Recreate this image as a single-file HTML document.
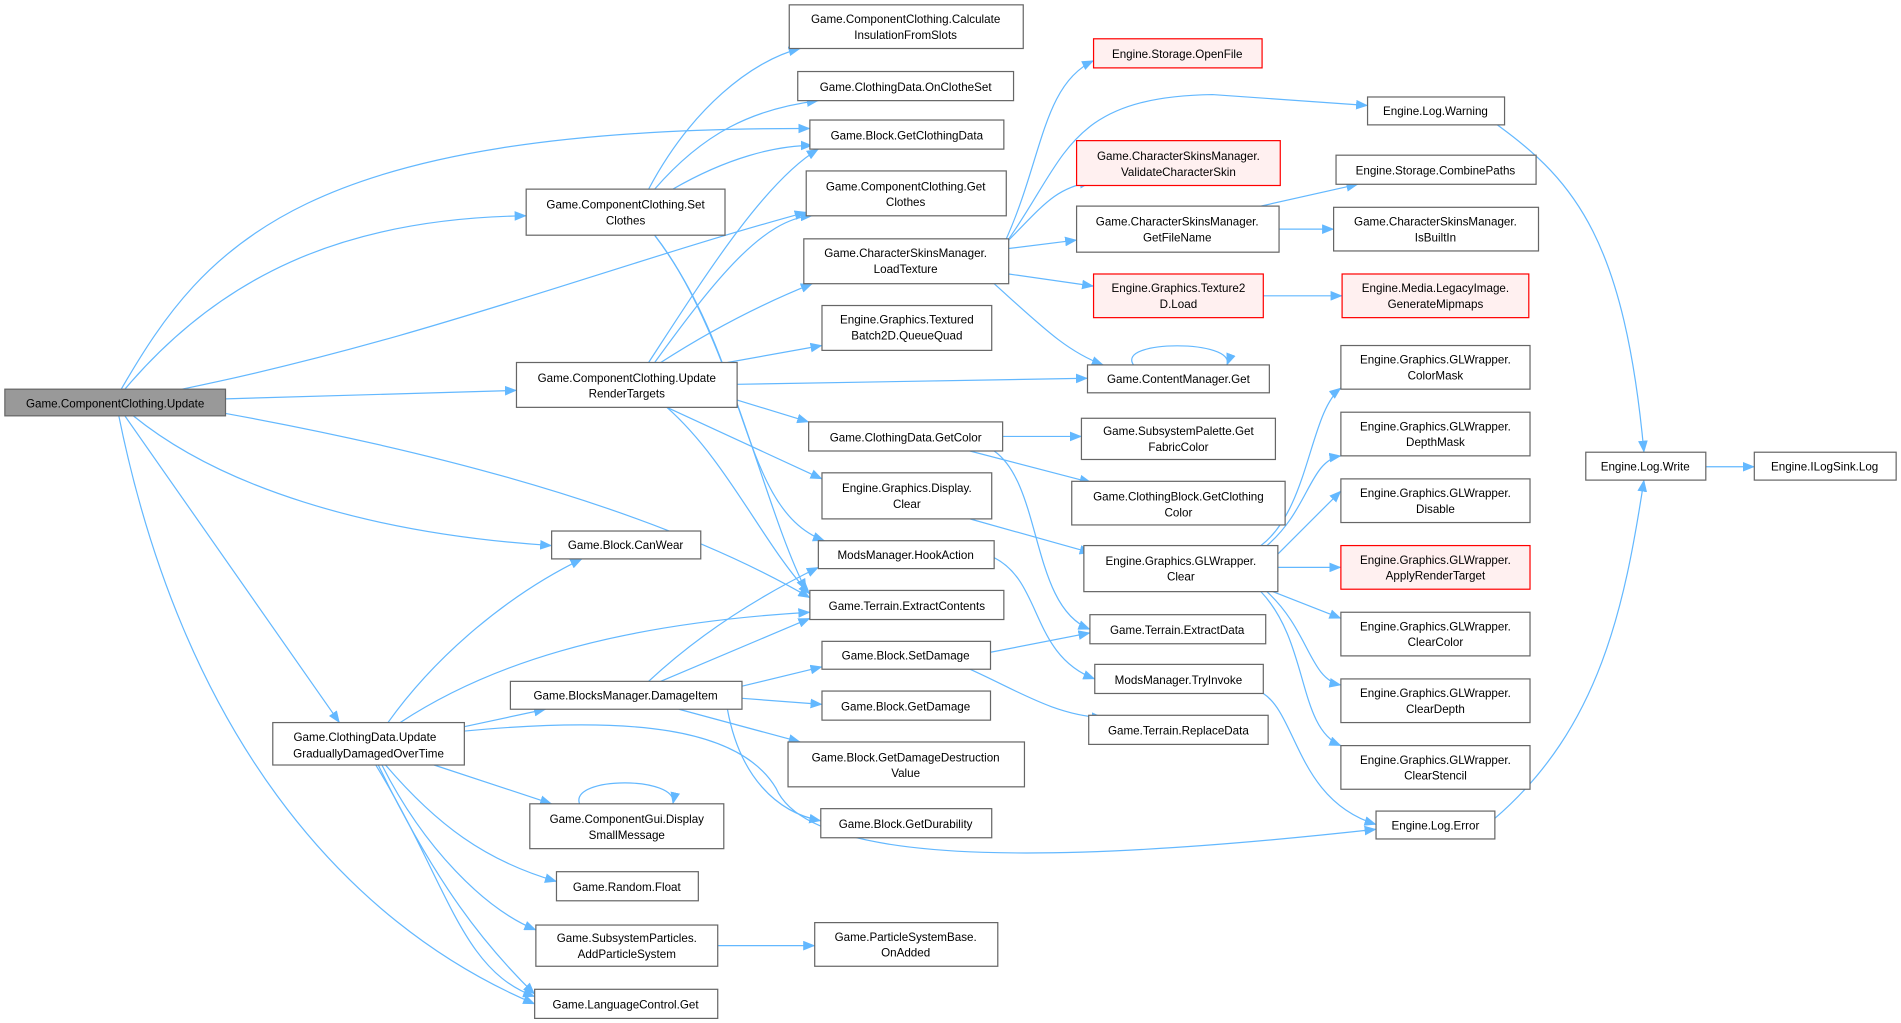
<!DOCTYPE html>
<html><head><meta charset="utf-8"><style>
html,body{margin:0;padding:0;background:#fff;}
svg{display:block;}
text{font-family:"Liberation Sans",Arial,sans-serif;font-size:9.6px;fill:#000;text-anchor:middle;}
.e{fill:none;stroke:#63b8ff;stroke-width:1;}
.n{fill:#fff;stroke:#666;stroke-width:1;}
.r{fill:#fff0f0;stroke:#f00;stroke-width:1;}
.g{fill:#999;stroke:#666;stroke-width:1;}
</style></head><body>
<svg width="1901" height="1023" viewBox="0 0 1568 843.8" xmlns="http://www.w3.org/2000/svg">
<defs><marker id="a" markerWidth="10" markerHeight="8" refX="9.5" refY="4" orient="auto" markerUnits="userSpaceOnUse"><path d="M0,0 L10,4 L0,8 z" fill="#63b8ff"/></marker></defs>
<g class="e" marker-end="url(#a)">
<path d="M100,321 C170,200 250,105 668,106"/>
<path d="M103,321 C180,230 280,180 434,178"/>
<path d="M150,321 C350,280 500,220 665,175"/>
<path d="M186,329 L426,322"/>
<path d="M186,341 C400,380 560,430 668,493"/>
<path d="M110,343 C180,400 300,440 455,450"/>
<path d="M103,343 L280,596"/>
<path d="M98,343 C150,600 280,760 441,828"/>
<path d="M535,156 C570,90 620,50 660,40"/>
<path d="M540,156 C580,110 620,90 675,83"/>
<path d="M555,156 C600,130 640,120 670,120"/>
<path d="M540,194 C600,270 630,420 665,487"/>
<path d="M540,194 C620,300 610,420 680,446"/>
<path d="M535,299 C580,230 630,150 675,123"/>
<path d="M540,299 C590,230 630,180 670,178"/>
<path d="M545,299 C590,270 630,250 670,234"/>
<path d="M600,299 L678,285"/>
<path d="M608,317 L897,312"/>
<path d="M608,330 L667,348"/>
<path d="M550,336 L678,395"/>
<path d="M550,336 C600,380 630,450 668,490"/>
<path d="M320,596 C360,540 420,490 480,461"/>
<path d="M330,596 C400,550 500,515 668,505"/>
<path d="M380,600 L450,585"/>
<path d="M383,603 C520,590 610,600 640,650 C670,720 900,710 1135,684"/>
<path d="M358,631 L455,663"/>
<path d="M318,631 C360,680 400,710 459,727"/>
<path d="M315,631 C350,700 400,750 442,767"/>
<path d="M312,631 C360,730 400,780 441,820"/>
<path d="M310,631 C370,730 380,800 441,822"/>
<path d="M478,663 C470,640 560,640 555,663"/>
<path d="M935,301 C920,280 1020,280 1012,301"/>
<path d="M592,780 L672,780"/>
<path d="M535,562 C580,520 630,490 675,468"/>
<path d="M545,562 L668,510"/>
<path d="M612,566 L678,550"/>
<path d="M612,576 L678,581"/>
<path d="M560,585 L660,612"/>
<path d="M600,585 C610,640 640,670 677,677"/>
<path d="M830,197 C860,130 860,70 902,50"/>
<path d="M830,200 C880,130 880,80 1000,78 L1128,87"/>
<path d="M830,200 C860,170 870,155 900,150"/>
<path d="M832,205 L888,198"/>
<path d="M832,226 L902,236"/>
<path d="M820,234 C860,270 880,290 910,301"/>
<path d="M1040,170 L1120,152"/>
<path d="M1055,189 L1100,189"/>
<path d="M1042,244 L1107,244"/>
<path d="M827,360 L892,360"/>
<path d="M800,372 L900,398"/>
<path d="M820,372 C860,400 850,500 899,519"/>
<path d="M800,428 L900,456"/>
<path d="M820,460 C860,480 850,540 903,560"/>
<path d="M817,538 L899,522"/>
<path d="M800,552 C840,570 870,590 910,592"/>
<path d="M1042,572 C1070,590 1070,660 1135,680"/>
<path d="M1040,450 C1080,420 1080,340 1106,320"/>
<path d="M1045,450 C1080,420 1080,380 1106,376"/>
<path d="M1054,457 L1106,405"/>
<path d="M1054,468 L1106,468"/>
<path d="M1050,488 L1106,510"/>
<path d="M1045,488 C1080,520 1080,560 1106,565"/>
<path d="M1040,488 C1080,530 1070,600 1106,615"/>
<path d="M1235,103 C1300,150 1340,200 1356,373"/>
<path d="M1233,675 C1320,600 1340,500 1356,396"/>
<path d="M1407,385 L1447,385"/>
</g>
<g>
<rect class="g" x="4" y="321" width="182" height="22"/><text x="95" y="336">Game.ComponentClothing.Update</text>
<rect class="n" x="651" y="4" width="193" height="36"/><text x="747" y="19">Game.ComponentClothing.Calculate</text><text x="747" y="32">InsulationFromSlots</text>
<rect class="n" x="658" y="59" width="178" height="24"/><text x="747" y="75">Game.ClothingData.OnClotheSet</text>
<rect class="n" x="668" y="99" width="160" height="24"/><text x="748" y="115">Game.Block.GetClothingData</text>
<rect class="n" x="665" y="141" width="165" height="37"/><text x="747" y="157">Game.ComponentClothing.Get</text><text x="747" y="170">Clothes</text>
<rect class="n" x="434" y="156" width="164" height="38"/><text x="516" y="172">Game.ComponentClothing.Set</text><text x="516" y="185">Clothes</text>
<rect class="n" x="663" y="197" width="169" height="37"/><text x="747" y="212">Game.CharacterSkinsManager.</text><text x="747" y="225">LoadTexture</text>
<rect class="n" x="678" y="252" width="140" height="37"/><text x="748" y="267">Engine.Graphics.Textured</text><text x="748" y="280">Batch2D.QueueQuad</text>
<rect class="n" x="426" y="299" width="182" height="37"/><text x="517" y="315">Game.ComponentClothing.Update</text><text x="517" y="328">RenderTargets</text>
<rect class="n" x="667" y="348" width="160" height="24"/><text x="747" y="364">Game.ClothingData.GetColor</text>
<rect class="n" x="678" y="390" width="140" height="38"/><text x="748" y="406">Engine.Graphics.Display.</text><text x="748" y="419">Clear</text>
<rect class="n" x="675" y="446" width="145" height="23"/><text x="747" y="461">ModsManager.HookAction</text>
<rect class="n" x="668" y="487" width="160" height="24"/><text x="748" y="503">Game.Terrain.ExtractContents</text>
<rect class="n" x="455" y="438" width="123" height="23"/><text x="516" y="453">Game.Block.CanWear</text>
<rect class="n" x="421" y="562" width="191" height="23"/><text x="516" y="577">Game.BlocksManager.DamageItem</text>
<rect class="n" x="225" y="596" width="158" height="35"/><text x="301" y="611">Game.ClothingData.Update</text><text x="304" y="625">GraduallyDamagedOverTime</text>
<rect class="n" x="678" y="529" width="139" height="23"/><text x="747" y="544">Game.Block.SetDamage</text>
<rect class="n" x="678" y="570" width="139" height="24"/><text x="747" y="586">Game.Block.GetDamage</text>
<rect class="n" x="650" y="612" width="195" height="37"/><text x="747" y="628">Game.Block.GetDamageDestruction</text><text x="747" y="641">Value</text>
<rect class="n" x="677" y="667" width="141" height="24"/><text x="747" y="683">Game.Block.GetDurability</text>
<rect class="n" x="437" y="663" width="160" height="37"/><text x="517" y="679">Game.ComponentGui.Display</text><text x="517" y="692">SmallMessage</text>
<rect class="n" x="459" y="719" width="117" height="24"/><text x="517" y="735">Game.Random.Float</text>
<rect class="n" x="442" y="763" width="150" height="34"/><text x="517" y="777">Game.SubsystemParticles.</text><text x="517" y="790">AddParticleSystem</text>
<rect class="n" x="441" y="816" width="151" height="24"/><text x="516" y="832">Game.LanguageControl.Get</text>
<rect class="n" x="672" y="761" width="151" height="36"/><text x="747" y="776">Game.ParticleSystemBase.</text><text x="747" y="789">OnAdded</text>
<rect class="r" x="902" y="32" width="139" height="24"/><text x="971" y="48">Engine.Storage.OpenFile</text>
<rect class="r" x="888" y="116" width="168" height="37"/><text x="972" y="132">Game.CharacterSkinsManager.</text><text x="972" y="145">ValidateCharacterSkin</text>
<rect class="n" x="888" y="170" width="167" height="38"/><text x="971" y="186">Game.CharacterSkinsManager.</text><text x="971" y="199">GetFileName</text>
<rect class="r" x="902" y="226" width="140" height="36"/><text x="972" y="241">Engine.Graphics.Texture2</text><text x="972" y="254">D.Load</text>
<rect class="n" x="897" y="301" width="150" height="23"/><text x="972" y="316">Game.ContentManager.Get</text>
<rect class="n" x="892" y="345" width="160" height="34"/><text x="972" y="359">Game.SubsystemPalette.Get</text><text x="972" y="372">FabricColor</text>
<rect class="n" x="884" y="397" width="176" height="36"/><text x="972" y="413">Game.ClothingBlock.GetClothing</text><text x="972" y="426">Color</text>
<rect class="n" x="894" y="450" width="160" height="38"/><text x="974" y="466">Engine.Graphics.GLWrapper.</text><text x="974" y="479">Clear</text>
<rect class="n" x="899" y="507" width="145" height="24"/><text x="971" y="523">Game.Terrain.ExtractData</text>
<rect class="n" x="903" y="548" width="139" height="24"/><text x="972" y="564">ModsManager.TryInvoke</text>
<rect class="n" x="898" y="590" width="148" height="24"/><text x="972" y="606">Game.Terrain.ReplaceData</text>
<rect class="n" x="1128" y="80" width="113" height="23"/><text x="1184" y="95">Engine.Log.Warning</text>
<rect class="n" x="1102" y="128" width="165" height="24"/><text x="1184" y="144">Engine.Storage.CombinePaths</text>
<rect class="n" x="1100" y="171" width="169" height="36"/><text x="1184" y="186">Game.CharacterSkinsManager.</text><text x="1184" y="199">IsBuiltIn</text>
<rect class="r" x="1107" y="226" width="154" height="36"/><text x="1184" y="241">Engine.Media.LegacyImage.</text><text x="1184" y="254">GenerateMipmaps</text>
<rect class="n" x="1106" y="285" width="156" height="36"/><text x="1184" y="300">Engine.Graphics.GLWrapper.</text><text x="1184" y="313">ColorMask</text>
<rect class="n" x="1106" y="340" width="156" height="36"/><text x="1184" y="355">Engine.Graphics.GLWrapper.</text><text x="1184" y="368">DepthMask</text>
<rect class="n" x="1106" y="395" width="156" height="36"/><text x="1184" y="410">Engine.Graphics.GLWrapper.</text><text x="1184" y="423">Disable</text>
<rect class="r" x="1106" y="450" width="156" height="36"/><text x="1184" y="465">Engine.Graphics.GLWrapper.</text><text x="1184" y="478">ApplyRenderTarget</text>
<rect class="n" x="1106" y="505" width="156" height="36"/><text x="1184" y="520">Engine.Graphics.GLWrapper.</text><text x="1184" y="533">ClearColor</text>
<rect class="n" x="1106" y="560" width="156" height="36"/><text x="1184" y="575">Engine.Graphics.GLWrapper.</text><text x="1184" y="588">ClearDepth</text>
<rect class="n" x="1106" y="615" width="156" height="36"/><text x="1184" y="630">Engine.Graphics.GLWrapper.</text><text x="1184" y="643">ClearStencil</text>
<rect class="n" x="1135" y="669" width="98" height="23"/><text x="1184" y="684">Engine.Log.Error</text>
<rect class="n" x="1308" y="373" width="99" height="23"/><text x="1357" y="388">Engine.Log.Write</text>
<rect class="n" x="1447" y="373" width="117" height="23"/><text x="1505" y="388">Engine.ILogSink.Log</text>
</g>
</svg>
</body></html>
